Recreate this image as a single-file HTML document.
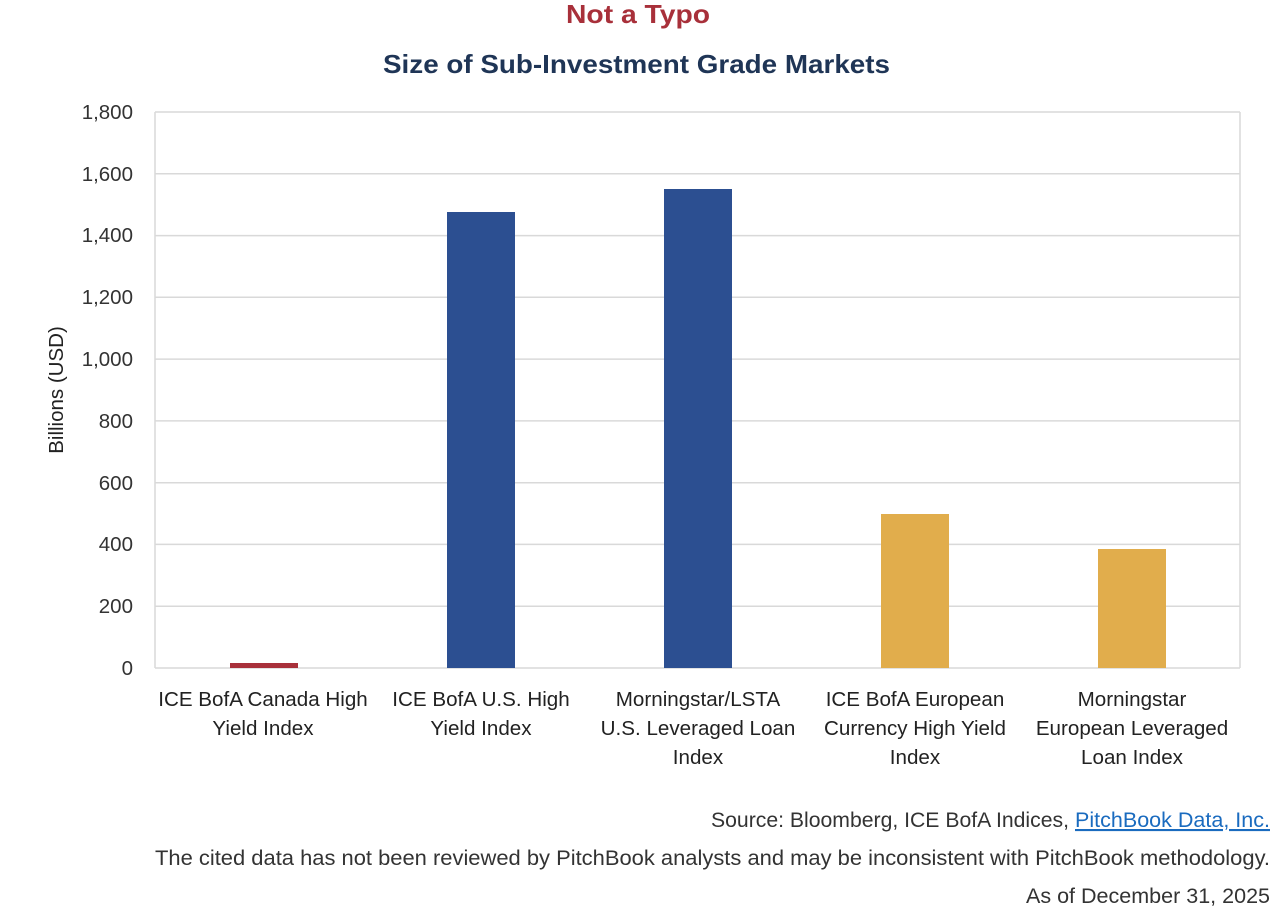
<!DOCTYPE html>
<html><head><meta charset="utf-8"><style>
body{margin:0;background:#fff;width:1280px;height:909px;overflow:hidden;font-family:"Liberation Sans",sans-serif;}
</style></head><body>
<svg width="1280" height="909" viewBox="0 0 1280 909" xmlns="http://www.w3.org/2000/svg" font-family="Liberation Sans, sans-serif">
<text x="566" y="23" textLength="144" lengthAdjust="spacingAndGlyphs" font-size="26" font-weight="bold" fill="#a8303a">Not a Typo</text>
<text x="383" y="73" textLength="507" lengthAdjust="spacingAndGlyphs" font-size="26" font-weight="bold" fill="#1f3556">Size of Sub-Investment Grade Markets</text>
<g stroke="#d9d9d9" stroke-width="1.5">
<line x1="155" x2="1240" y1="112" y2="112"/>
<line x1="155" x2="1240" y1="173.8" y2="173.8"/>
<line x1="155" x2="1240" y1="235.6" y2="235.6"/>
<line x1="155" x2="1240" y1="297.3" y2="297.3"/>
<line x1="155" x2="1240" y1="359.1" y2="359.1"/>
<line x1="155" x2="1240" y1="420.9" y2="420.9"/>
<line x1="155" x2="1240" y1="482.7" y2="482.7"/>
<line x1="155" x2="1240" y1="544.4" y2="544.4"/>
<line x1="155" x2="1240" y1="606.2" y2="606.2"/>
<line x1="155" x2="1240" y1="668" y2="668"/>
<line x1="155" x2="155" y1="112" y2="668"/>
<line x1="1240" x2="1240" y1="112" y2="668"/>
</g>
<g font-size="20.5" fill="#333" text-anchor="end">
<text x="133" y="119">1,800</text>
<text x="133" y="181">1,600</text>
<text x="133" y="242">1,400</text>
<text x="133" y="304">1,200</text>
<text x="133" y="366">1,000</text>
<text x="133" y="428">800</text>
<text x="133" y="490">600</text>
<text x="133" y="551">400</text>
<text x="133" y="613">200</text>
<text x="133" y="675">0</text>
</g>
<text transform="translate(63,390) rotate(-90)" text-anchor="middle" font-size="20.5" fill="#222">Billions (USD)</text>
<rect x="230" y="663" width="68" height="5" fill="#a8303a"/>
<rect x="447" y="212" width="68" height="456" fill="#2c4f91"/>
<rect x="664" y="189" width="68" height="479" fill="#2c4f91"/>
<rect x="881" y="514" width="68" height="154" fill="#e1ad4c"/>
<rect x="1098" y="549" width="68" height="119" fill="#e1ad4c"/>
<g font-size="20.6" fill="#222" text-anchor="middle">
<text x="263" y="706">ICE BofA Canada High</text><text x="263" y="735">Yield Index</text>
<text x="481" y="706">ICE BofA U.S. High</text><text x="481" y="735">Yield Index</text>
<text x="698" y="706">Morningstar/LSTA</text><text x="698" y="735">U.S. Leveraged Loan</text><text x="698" y="764">Index</text>
<text x="915" y="706">ICE BofA European</text><text x="915" y="735">Currency High Yield</text><text x="915" y="764">Index</text>
<text x="1132" y="706">Morningstar</text><text x="1132" y="735">European Leveraged</text><text x="1132" y="764">Loan Index</text>
</g>
<g font-size="21" fill="#333">
<text x="711" y="827" textLength="358" lengthAdjust="spacingAndGlyphs">Source: Bloomberg, ICE BofA Indices,</text>
<text x="1075" y="827" textLength="195" lengthAdjust="spacingAndGlyphs" fill="#1a6bbf" text-decoration="underline">PitchBook Data, Inc.</text>
<text x="155" y="865" textLength="1115" lengthAdjust="spacingAndGlyphs">The cited data has not been reviewed by PitchBook analysts and may be inconsistent with PitchBook methodology.</text>
<text x="1026" y="903" textLength="244" lengthAdjust="spacingAndGlyphs">As of December 31, 2025</text>
</g>
</svg>
</body></html>
